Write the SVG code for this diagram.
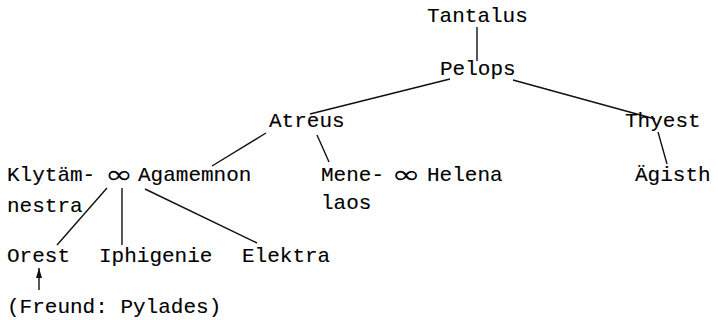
<svg xmlns="http://www.w3.org/2000/svg" width="718" height="320" viewBox="0 0 718 320">
<style>
text{font-family:"Liberation Mono","DejaVu Sans Mono",monospace;font-size:21px;fill:#000;stroke:#000;stroke-width:0.12}
.inf{font-family:"DejaVu Sans",sans-serif;font-size:28px;text-anchor:middle;stroke:none}
.c line{stroke:#111;stroke-width:1.4;fill:none}
</style>
<defs>
<marker id="ah" viewBox="0 0 10 6" refX="10" refY="3" markerWidth="10" markerHeight="6" orient="auto" markerUnits="userSpaceOnUse">
<path d="M0,0 L10,3 L0,6 Z" fill="#111"/>
</marker>
</defs>
<g id="connectors" class="c">
<line x1="477" y1="27" x2="477" y2="61"/>
<line x1="450" y1="79" x2="310" y2="114"/>
<line x1="513" y1="80" x2="655" y2="119"/>
<line x1="266" y1="133" x2="212" y2="166"/>
<line x1="317" y1="135" x2="329" y2="162"/>
<line x1="658" y1="132" x2="667" y2="164"/>
<line x1="107" y1="188" x2="57" y2="245"/>
<line x1="122" y1="188" x2="122" y2="245"/>
<line x1="145" y1="189" x2="257" y2="243"/>
<line x1="39" y1="290" x2="39" y2="268" marker-end="url(#ah)"/>
</g>
<g id="tantalus"><text x="427" y="22">Tantalus</text></g>
<g id="pelops"><text x="440" y="75">Pelops</text></g>
<g id="atreus"><text x="269" y="127">Atreus</text></g>
<g id="thyest"><text x="625" y="127">Thyest</text></g>
<g id="klytaemnestra"><text x="7" y="181">Klytäm-</text><text x="7" y="212">nestra</text></g>
<g id="marriage1"><text class="inf" transform="translate(119,183) scale(1.2,0.9)">∞</text></g>
<g id="agamemnon"><text x="138" y="181">Agamemnon</text></g>
<g id="menelaos"><text x="321" y="181">Mene-</text><text x="321" y="209">laos</text></g>
<g id="marriage2"><text class="inf" transform="translate(406,183) scale(1.25,0.9)">∞</text></g>
<g id="helena"><text x="427" y="181">Helena</text></g>
<g id="aegisth"><text x="635" y="181">Ägisth</text></g>
<g id="orest"><text x="7" y="262">Orest</text></g>
<g id="iphigenie"><text x="99" y="262">Iphigenie</text></g>
<g id="elektra"><text x="242" y="262">Elektra</text></g>
<g id="pylades"><text x="7" y="313">(Freund: Pylades)</text></g>
</svg>
